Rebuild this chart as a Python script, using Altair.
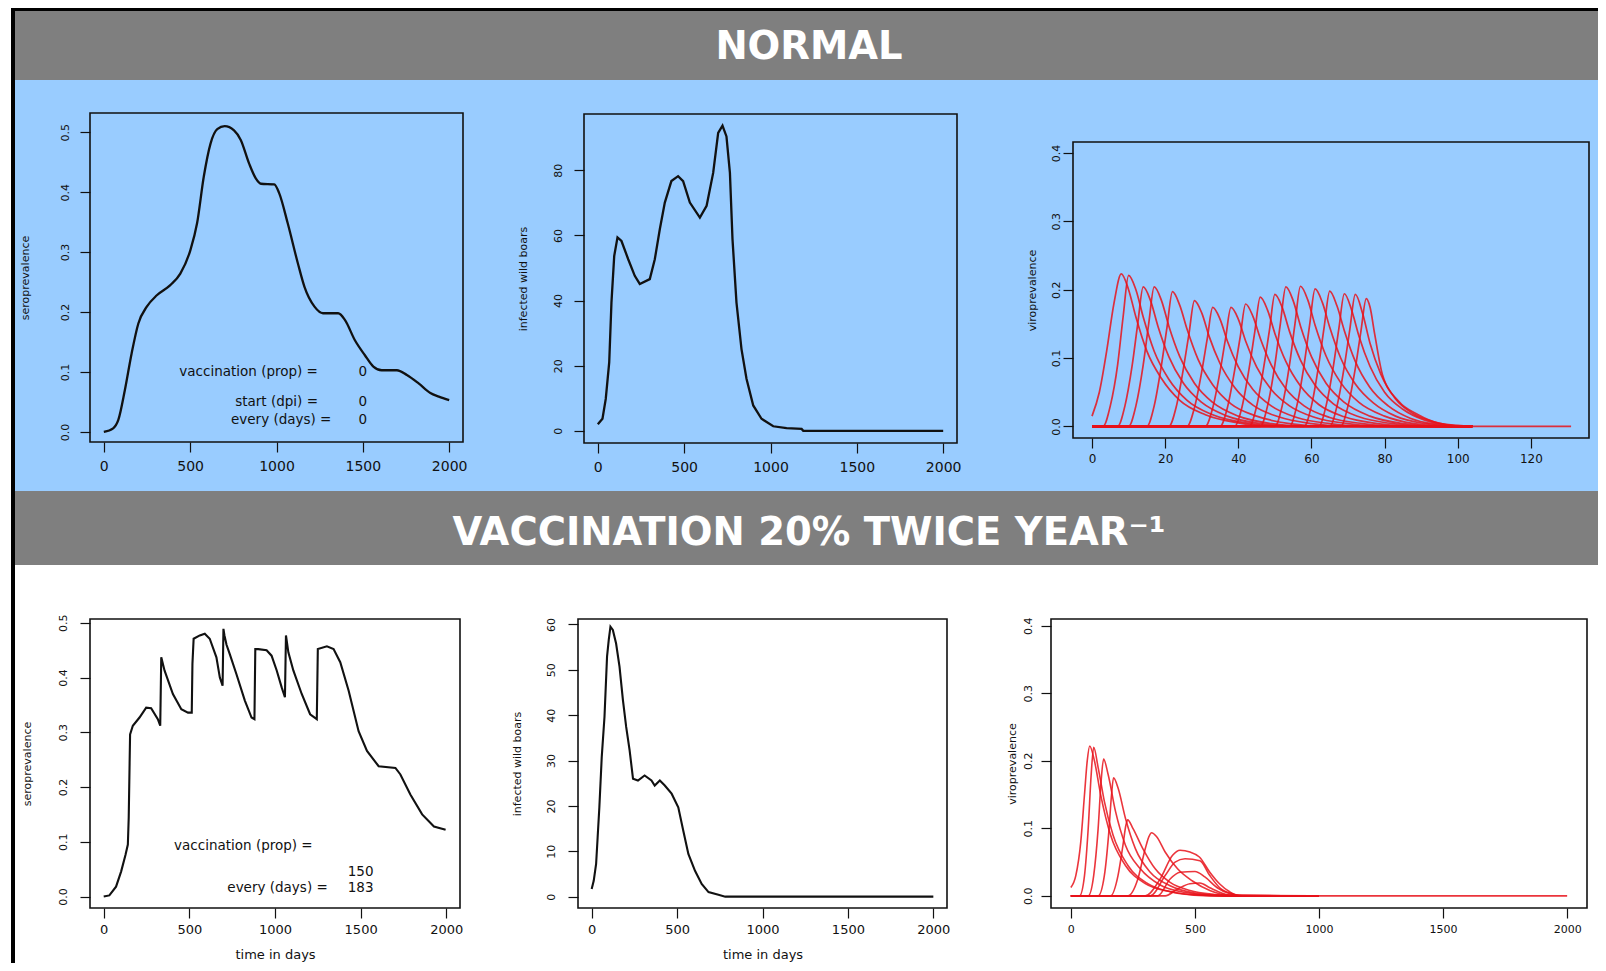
import altair as alt
import pandas as pd

FONT = "DejaVu Sans"
BLUE = "#99ccff"
GRAY = "#7f7f7f"
INK = "#111111"
RED = "#e8121a"

HEADER_NORMAL = "NORMAL"
HEADER_VACC = "VACCINATION 20% TWICE YEAR\u207b\u00b9"

TITLE_SERO = "seroprevalence"
TITLE_INF = "infected wild boars"
TITLE_VIRO = "viroprevalence"
TITLE_TIME = "time in days"

TICKS_DAYS = [0, 500, 1000, 1500, 2000]
TICKS_VIRO_NORMAL_X = [0, 20, 40, 60, 80, 100, 120]
TICKS_SERO = [0.0, 0.1, 0.2, 0.3, 0.4, 0.5]
TICKS_INF_NORMAL = [0, 20, 40, 60, 80]
TICKS_INF_VACC = [0, 10, 20, 30, 40, 50, 60]
TICKS_VIRO = [0.0, 0.1, 0.2, 0.3, 0.4]

# ---- NORMAL: seroprevalence ----
sero_normal_day = [0, 54, 84, 122, 161, 200, 249, 307, 385, 443, 501, 540, 579, 618, 657, 700,
                   754, 793, 841, 880, 910, 987, 1016, 1065, 1124, 1162, 1220, 1269, 1357, 1396,
                   1454, 1512, 1561, 1609, 1697, 1755, 1823, 1891, 1940, 2000]
sero_normal_val = [0.0, 0.006, 0.02, 0.07, 0.131, 0.181, 0.209, 0.228, 0.245, 0.264, 0.303, 0.348,
                   0.426, 0.481, 0.505, 0.51, 0.503, 0.487, 0.448, 0.423, 0.414, 0.413, 0.398, 0.348,
                   0.281, 0.242, 0.209, 0.198, 0.198, 0.187, 0.153, 0.128, 0.109, 0.103, 0.103,
                   0.095, 0.081, 0.065, 0.059, 0.053]

# ---- NORMAL: infected wild boars ----
inf_normal_day = [0, 27, 46, 66, 79, 95, 114, 137, 176, 214, 243, 301, 330, 359, 388, 426, 465,
                  494, 533, 591, 630, 668, 697, 722, 745, 765, 780, 803, 832, 861, 900, 948, 1016,
                  1093, 1180, 1190, 2000]
inf_normal_val = [2, 3.7, 9.8, 21, 39.4, 53.7, 59.4, 58.3, 52.7, 47.6, 45.1, 46.6, 52.7, 61.9,
                  70.1, 76.7, 78.2, 76.7, 70.1, 65.5, 69.1, 79.2, 91.5, 93.7, 90.4, 79.2, 58.8,
                  39.4, 25.1, 16, 7.8, 3.7, 1.4, 0.8, 0.6, 0, 0]

# ---- NORMAL: viroprevalence curves ----
viro_normal_x = [
    [0, 2, 4, 6, 8, 10, 12, 15, 19, 24, 31, 40, 50, 131],
    [0, 3, 5, 7, 8.5, 10, 12, 14, 17, 21, 26, 33, 42, 52, 104],
    [0, 7, 9, 11, 12.5, 14, 16, 18, 21, 25, 30, 37, 46, 56, 104],
    [0, 10, 12, 14, 15.5, 17, 19, 21, 24, 28, 33, 40, 49, 59, 104],
    [0, 15, 17, 19, 20.5, 22, 24, 26, 29, 33, 38, 45, 54, 64, 104],
    [0, 21, 23, 25, 26.5, 28, 30, 32, 35, 39, 44, 51, 60, 70, 104],
    [0, 26, 28, 30, 31.5, 33, 35, 37, 40, 44, 49, 56, 65, 75, 104],
    [0, 31, 33, 35, 36.5, 38, 40, 42, 45, 49, 54, 61, 70, 80, 104],
    [0, 35, 37, 39, 40.5, 42, 44, 46, 49, 53, 58, 65, 74, 84, 104],
    [0, 39, 41, 43, 44.5, 46, 48, 50, 53, 57, 62, 69, 78, 88, 104],
    [0, 43, 45, 47, 48.5, 50, 52, 54, 57, 61, 66, 73, 82, 92, 104],
    [0, 46, 48, 50, 51.5, 53, 55, 57, 60, 64, 69, 76, 85, 95, 104],
    [0, 50, 52, 54, 55.5, 57, 59, 61, 64, 68, 73, 80, 88, 97, 104],
    [0, 54, 56, 58, 59.5, 61, 63, 65, 68, 72, 77, 83, 91, 99, 104],
    [0, 58, 60, 62, 63.5, 65, 67, 69, 72, 76, 81, 87, 94, 101, 104],
    [0, 62, 64, 66, 67.5, 69, 71, 73, 76, 80, 85, 91, 97, 102, 104],
    [0, 65, 67, 69, 70.5, 72, 74, 76, 79, 83, 88, 94, 99, 103, 104],
    [0, 68, 70, 72, 73.5, 75, 76, 77.3, 79.4, 83.8, 89.2, 94.6, 100, 104],
]
viro_normal_y = [
    [0.015, 0.05, 0.11, 0.18, 0.223, 0.2, 0.16, 0.11, 0.07, 0.038, 0.017, 0.005, 0, 0],
    [0, 0, 0.03, 0.09, 0.16, 0.221, 0.2, 0.16, 0.11, 0.069, 0.038, 0.017, 0.005, 0, 0],
    [0, 0, 0.03, 0.09, 0.15, 0.204, 0.184, 0.147, 0.102, 0.063, 0.035, 0.015, 0.004, 0, 0],
    [0, 0, 0.03, 0.09, 0.15, 0.204, 0.184, 0.147, 0.102, 0.063, 0.035, 0.015, 0.004, 0, 0],
    [0, 0, 0.03, 0.09, 0.145, 0.197, 0.177, 0.142, 0.098, 0.061, 0.033, 0.015, 0.004, 0, 0],
    [0, 0, 0.028, 0.085, 0.135, 0.184, 0.166, 0.132, 0.092, 0.057, 0.031, 0.014, 0.004, 0, 0],
    [0, 0, 0.027, 0.08, 0.128, 0.174, 0.157, 0.125, 0.087, 0.054, 0.03, 0.013, 0.004, 0, 0],
    [0, 0, 0.027, 0.08, 0.128, 0.174, 0.157, 0.125, 0.087, 0.054, 0.03, 0.013, 0.004, 0, 0],
    [0, 0, 0.027, 0.082, 0.13, 0.179, 0.161, 0.129, 0.09, 0.055, 0.03, 0.013, 0.004, 0, 0],
    [0, 0, 0.028, 0.086, 0.138, 0.189, 0.17, 0.136, 0.095, 0.059, 0.032, 0.014, 0.004, 0, 0],
    [0, 0, 0.029, 0.088, 0.14, 0.193, 0.174, 0.139, 0.097, 0.06, 0.033, 0.014, 0.004, 0, 0],
    [0, 0, 0.03, 0.09, 0.15, 0.204, 0.184, 0.147, 0.102, 0.063, 0.035, 0.015, 0.004, 0, 0],
    [0, 0, 0.03, 0.09, 0.15, 0.205, 0.185, 0.148, 0.103, 0.064, 0.035, 0.015, 0.004, 0, 0],
    [0, 0, 0.03, 0.09, 0.148, 0.201, 0.181, 0.145, 0.1, 0.062, 0.034, 0.015, 0.004, 0, 0],
    [0, 0, 0.03, 0.09, 0.146, 0.198, 0.176, 0.14, 0.095, 0.057, 0.03, 0.012, 0.003, 0, 0],
    [0, 0, 0.03, 0.088, 0.143, 0.194, 0.17, 0.132, 0.088, 0.05, 0.025, 0.009, 0.002, 0, 0],
    [0, 0, 0.03, 0.088, 0.142, 0.193, 0.165, 0.122, 0.076, 0.04, 0.018, 0.006, 0.001, 0, 0],
    [0, 0, 0.03, 0.085, 0.138, 0.187, 0.175, 0.135, 0.076, 0.037, 0.017, 0.005, 0.0015, 0],
]

# ---- VACCINATION: seroprevalence ----
sero_vacc_day = [0, 33, 72, 102, 127, 141, 146, 154, 170, 209, 248, 277, 316, 330, 336, 355, 404,
                 453, 492, 514, 518, 525, 561, 590, 619, 658, 678, 694, 699, 705, 717, 736, 775,
                 824, 863, 880, 885, 902, 951, 980, 1010, 1039, 1058, 1064, 1078, 1107, 1156, 1205,
                 1244, 1250, 1303, 1342, 1381, 1430, 1488, 1537, 1605, 1703, 1732, 1791, 1859,
                 1928, 1996]
sero_vacc_val = [0.0, 0.002, 0.018, 0.046, 0.076, 0.095, 0.144, 0.296, 0.312, 0.327, 0.345, 0.344,
                 0.324, 0.312, 0.437, 0.413, 0.37, 0.342, 0.336, 0.336, 0.425, 0.471, 0.477, 0.48,
                 0.471, 0.437, 0.40, 0.385, 0.489, 0.477, 0.46, 0.443, 0.406, 0.358, 0.327, 0.324,
                 0.452, 0.452, 0.45, 0.44, 0.413, 0.382, 0.364, 0.477, 0.446, 0.413, 0.37, 0.333,
                 0.324, 0.452, 0.457, 0.452, 0.428, 0.376, 0.302, 0.266, 0.238, 0.235, 0.223,
                 0.186, 0.15, 0.128, 0.122]

# ---- VACCINATION: infected wild boars ----
inf_vacc_day = [0, 12, 26, 35, 45, 59, 75, 90, 100, 110, 124, 143, 163, 183, 202, 222, 242, 271,
                310, 350, 369, 399, 428, 468, 507, 536, 566, 605, 644, 684, 742, 782, 2000]
inf_vacc_val = [1.7, 3.5, 7.2, 13.1, 19.7, 30.8, 39.6, 52.9, 56.6, 59.5, 58.8, 55.8, 50.7, 43.3,
                37.4, 32.3, 26, 25.6, 26.7, 25.6, 24.5, 25.6, 24.5, 22.7, 19.7, 14.6, 9.4, 5.7,
                2.8, 1, 0.4, 0, 0]

# ---- VACCINATION: viroprevalence curves ----
viro_vacc_x = [
    [0, 20, 40, 55, 66, 76, 95, 120, 160, 220, 300, 400, 520, 1000],
    [0, 35, 55, 70, 82, 92, 110, 135, 170, 230, 310, 420, 560, 1000],
    [0, 70, 92, 110, 122, 132, 150, 180, 220, 280, 360, 460, 600, 1000],
    [0, 110, 135, 152, 164, 172, 190, 220, 260, 320, 400, 500, 620, 1000],
    [0, 160, 190, 210, 222, 229, 250, 290, 340, 400, 480, 580, 650, 1000],
    [0, 230, 270, 300, 315, 325, 345, 380, 430, 490, 560, 640, 1000],
    [0, 300, 360, 410, 440, 480, 518, 560, 600, 640, 680, 1000],
    [0, 320, 380, 420, 460, 520, 560, 600, 650, 690, 1000],
    [0, 350, 400, 440, 500, 540, 590, 640, 680, 1000],
    [0, 380, 430, 480, 520, 560, 610, 660, 2000],
]
viro_vacc_y = [
    [0.0125, 0.03, 0.08, 0.15, 0.2, 0.222, 0.2, 0.15, 0.09, 0.045, 0.018, 0.006, 0.001, 0],
    [0, 0, 0.03, 0.1, 0.18, 0.22, 0.19, 0.14, 0.09, 0.045, 0.018, 0.005, 0, 0],
    [0, 0, 0.03, 0.1, 0.17, 0.2025, 0.18, 0.125, 0.075, 0.04, 0.016, 0.005, 0, 0],
    [0, 0, 0.03, 0.09, 0.15, 0.175, 0.16, 0.115, 0.07, 0.035, 0.015, 0.004, 0, 0],
    [0, 0, 0.03, 0.075, 0.105, 0.1125, 0.1, 0.07, 0.04, 0.02, 0.008, 0.002, 0, 0],
    [0, 0, 0.025, 0.07, 0.088, 0.0935, 0.088, 0.065, 0.04, 0.022, 0.008, 0.001, 0],
    [0, 0, 0.025, 0.06, 0.0675, 0.065, 0.0575, 0.035, 0.0175, 0.006, 0, 0],
    [0, 0, 0.03, 0.05, 0.055, 0.052, 0.03, 0.012, 0.003, 0, 0],
    [0, 0, 0.025, 0.035, 0.036, 0.028, 0.012, 0.003, 0, 0],
    [0, 0, 0.01, 0.018, 0.019, 0.012, 0.004, 0, 0],
]

# ---- annotation texts ----
annot_normal_labels = ["vaccination (prop) =", "start (dpi) =", "every (days) ="]
annot_normal_values = ["0", "0", "0"]
annot_vacc_labels = ["vaccination (prop) =", "every (days) ="]
annot_vacc_values = ["150", "183"]


def single(xs_, ys_):
    return pd.DataFrame({"x": xs_, "y": ys_, "curve": [0] * len(xs_)})


def multi(xl, yl):
    rows = []
    for i, (a, b) in enumerate(zip(xl, yl)):
        for x, y in zip(a, b):
            rows.append({"x": x, "y": y, "curve": i})
    return pd.DataFrame(rows)


def panel(df, W, H, fill, frame, xdom, ydom, xticks, yticks, yfmt, ytitle, ytitle_cx,
          xlab_size, xlab_pad, ylab_pad, line_color, line_width, interp, line_opacity=1.0,
          xtitle=None, texts=None, strip=False):
    fl, fr, ft, fb = frame
    xs = alt.Scale(domain=xdom, range=[fl, fr], nice=False, zero=False)
    ys = alt.Scale(domain=ydom, range=[fb, ft], nice=False, zero=False)
    ax_kw = dict(values=xticks, offset=fb - H, format="d", domain=False, grid=False,
                 tickSize=10, tickColor=INK, tickWidth=1.2, labelFont=FONT,
                 labelFontSize=xlab_size, labelColor=INK, labelPadding=xlab_pad,
                 labelFlush=False, labelOverlap=False, labelAngle=0, labelAlign="center",
                 labelBaseline="top", titleFont=FONT, titleFontSize=13,
                 titleFontWeight="normal", titleColor=INK)
    if xtitle:
        ax_kw.update(title=xtitle, titleX=(fl + fr) / 2, titleY=46, titleAlign="center",
                     titleBaseline="middle", titleAngle=0)
    else:
        ax_kw.update(title="")
    ax = alt.Axis(**ax_kw)
    ay = alt.Axis(values=yticks, offset=-fl, format=yfmt, domain=False, grid=False,
                  tickSize=10, tickColor=INK, tickWidth=1.2, labelFont=FONT, labelFontSize=11,
                  labelColor=INK, labelPadding=ylab_pad, labelAngle=270, labelAlign="center",
                  labelBaseline="bottom", labelFlush=False, labelOverlap=False,
                  title=ytitle, titleFont=FONT, titleFontSize=11, titleFontWeight="normal",
                  titleColor=INK, titleAngle=270, titleX=ytitle_cx - fl, titleY=(ft + fb) / 2,
                  titleAlign="center", titleBaseline="middle")
    frame_df = pd.DataFrame({"x0": [xdom[0]], "x1": [xdom[1]], "y0": [ydom[0]], "y1": [ydom[1]]})
    layers = []
    if strip:
        layers.append(alt.Chart(frame_df).mark_rect(color="white").encode(
            x=alt.value(0), x2=alt.value(3), y=alt.value(0), y2=alt.value(H)))
        layers.append(alt.Chart(frame_df).mark_rect(color="black").encode(
            x=alt.value(3), x2=alt.value(7), y=alt.value(0), y2=alt.value(H)))
    layers.append(alt.Chart(frame_df).mark_rect(fillOpacity=0, stroke=INK, strokeWidth=1.6).encode(
        x=alt.X("x0:Q", scale=xs, axis=ax), x2="x1:Q",
        y=alt.Y("y0:Q", scale=ys, axis=ay), y2="y1:Q"))
    layers.append(alt.Chart(df).mark_line(color=line_color, strokeWidth=line_width,
                                          interpolate=interp, strokeOpacity=line_opacity).encode(
        x=alt.X("x:Q", scale=xs, axis=ax), y=alt.Y("y:Q", scale=ys, axis=ay),
        detail="curve:N"))
    if texts is not None:
        for tdf, align in texts:
            layers.append(alt.Chart(tdf).mark_text(align=align, baseline="middle", font=FONT,
                                                   fontSize=13.5, color=INK).encode(
                x=alt.X("x:Q", scale=xs, axis=ax), y=alt.Y("y:Q", scale=ys, axis=ay),
                text="label:N"))
    return alt.layer(*layers).properties(
        width=W, height=H, view=alt.ViewBackground(fill=fill, stroke="transparent"))


def header(text, W, H, ty, top_line):
    df = pd.DataFrame({"t": [text]})
    g0 = 3 if top_line else 0
    layers = [
        alt.Chart(df).mark_rect(color=GRAY).encode(
            x=alt.value(7), x2=alt.value(W), y=alt.value(g0), y2=alt.value(H)),
        alt.Chart(df).mark_rect(color="black").encode(
            x=alt.value(3), x2=alt.value(7), y=alt.value(0), y2=alt.value(H)),
    ]
    if top_line:
        layers.append(alt.Chart(df).mark_rect(color="black").encode(
            x=alt.value(3), x2=alt.value(W), y=alt.value(0), y2=alt.value(3)))
    layers.append(alt.Chart(df).mark_text(font=FONT, fontSize=38.5, fontWeight="bold",
                                          color="white", align="center",
                                          baseline="middle").encode(
        x=alt.value(801), y=alt.value(ty), text="t:N"))
    return alt.layer(*layers).properties(
        width=W, height=H, view=alt.ViewBackground(fill="white", stroke="transparent"))


# annotation tables (data coordinates)
ann_n_lab = pd.DataFrame({"x": [1240, 1240, 1318], "y": [0.1, 0.05, 0.02],
                          "label": annot_normal_labels})
ann_n_val = pd.DataFrame({"x": [1500, 1500, 1500], "y": [0.1, 0.05, 0.02],
                          "label": annot_normal_values})
ann_v_lab = pd.DataFrame({"x": [1220, 1308], "y": [0.093, 0.0155], "label": annot_vacc_labels})
ann_v_val = pd.DataFrame({"x": [1500, 1500], "y": [0.045, 0.0155], "label": annot_vacc_values})

DAYS_DOM = [-80, 2080]

p1 = panel(single(sero_normal_day, sero_normal_val), 497, 411, BLUE, (82, 455, 33, 362),
           DAYS_DOM, [-0.0167, 0.532], TICKS_DAYS, TICKS_SERO, ".1f", TITLE_SERO, 17,
           14, 7, 10, INK, 2.3, "monotone",
           texts=[(ann_n_lab, "right"), (ann_n_val, "center")], strip=True)
p2 = panel(single(inf_normal_day, inf_normal_val), 485, 411, BLUE, (79, 452, 34, 363),
           DAYS_DOM, [-3.74, 97.3], TICKS_DAYS, TICKS_INF_NORMAL, "d", TITLE_INF, 18,
           14, 7, 11, INK, 2.3, "linear")
p3 = panel(multi(viro_normal_x, viro_normal_y), 608, 411, BLUE, (83, 599, 62, 358),
           [-5.2, 135.9], [-0.017, 0.416], TICKS_VIRO_NORMAL_X, TICKS_VIRO, ".1f", TITLE_VIRO, 42,
           12, 5, 2, RED, 1.7, "monotone", line_opacity=0.85)
p4 = panel(single(sero_vacc_day, sero_vacc_val), 497, 398, "white", (82, 452, 54, 343),
           DAYS_DOM, [-0.021, 0.507], TICKS_DAYS, TICKS_SERO, ".1f", TITLE_SERO, 19,
           13, 5, 12, INK, 2.1, "linear", xtitle=TITLE_TIME,
           texts=[(ann_v_lab, "right"), (ann_v_val, "center")], strip=True)
p5 = panel(single(inf_vacc_day, inf_vacc_val), 485, 398, "white", (73, 442, 54, 343),
           DAYS_DOM, [-2.5, 61.2], TICKS_DAYS, TICKS_INF_VACC, "d", TITLE_INF, 12,
           13, 5, 12, INK, 2.1, "linear", xtitle=TITLE_TIME)
p6 = panel(multi(viro_vacc_x, viro_vacc_y), 608, 398, "white", (61, 597, 54, 343),
           DAYS_DOM, [-0.018, 0.41], TICKS_DAYS, TICKS_VIRO, ".1f", TITLE_VIRO, 22,
           11, 5, 8, RED, 1.6, "monotone", line_opacity=0.85)

h1 = header(HEADER_NORMAL, 1590, 72, 39, True)
h2 = header(HEADER_VACC, 1590, 74, 42, False)

row1 = alt.hconcat(p1, p2, p3, spacing=0, bounds="flush")
row2 = alt.hconcat(p4, p5, p6, spacing=0, bounds="flush")

chart = alt.vconcat(h1, row1, h2, row2, spacing=0).properties(
    padding=0, background="white").configure_view(strokeWidth=0)

chart.save("out.html", embed_options={"renderer": "svg", "actions": False})
